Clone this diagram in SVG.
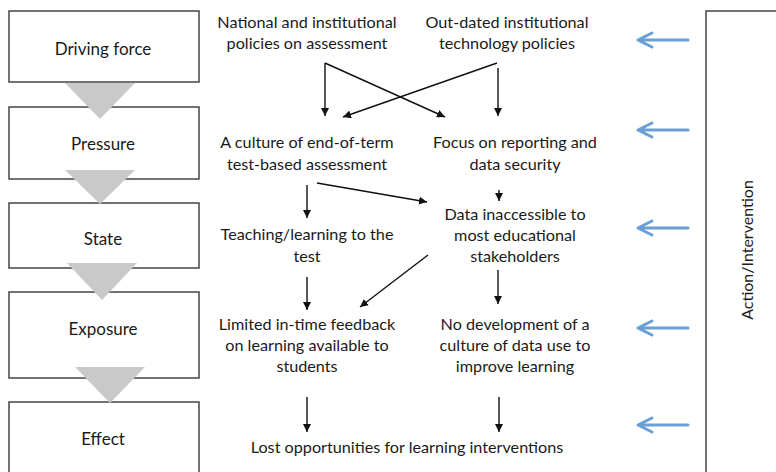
<svg xmlns="http://www.w3.org/2000/svg" width="776" height="472" viewBox="0 0 776 472">
<defs>
<marker id="ah" viewBox="0 0 10 10" refX="10" refY="5" markerWidth="8" markerHeight="8" markerUnits="userSpaceOnUse" orient="auto">
<path d="M0,0 L10,5 L0,10 Z" fill="#111"/>
</marker>
</defs>
<style>
.box{fill:#fff;stroke:#444;stroke-width:1.5}
.lbl{font-family:Lato,"Open Sans",sans-serif;font-size:17px;fill:#1a1a1a;text-anchor:middle}
.t{font-family:Lato,"Open Sans",sans-serif;font-size:16.2px;fill:#1a1a1a;text-anchor:middle}
.tri{fill:#c9c9c9}
.c{stroke:#111;stroke-width:1.4;fill:none;marker-end:url(#ah)}
.b{stroke:#6a9fd6;stroke-width:3;fill:none;stroke-linecap:round;stroke-linejoin:round}
</style>
<rect width="776" height="472" fill="#fff"/>
<g id="stages">
<g id="driving-force"><rect class="box" x="9" y="11" width="190" height="71"/><text class="lbl" x="103" y="55">Driving force</text></g>
<g id="pressure"><rect class="box" x="9" y="107" width="190" height="72"/><text class="lbl" x="103" y="150">Pressure</text></g>
<g id="state"><rect class="box" x="9" y="203" width="190" height="65"/><text class="lbl" x="103" y="245">State</text></g>
<g id="exposure"><rect class="box" x="9" y="292" width="190" height="86"/><text class="lbl" x="103" y="335">Exposure</text></g>
<g id="effect"><rect class="box" x="9" y="402" width="190" height="80"/><text class="lbl" x="103" y="445">Effect</text></g>
<polygon class="tri" points="65,83 135,83 100,119"/>
<polygon class="tri" points="65,170 135,170 100,204"/>
<polygon class="tri" points="67,263 137,263 102,300"/>
<polygon class="tri" points="75,367 145,367 110,403"/>
</g>
<g id="action"><rect class="box" x="706" y="11" width="100" height="500"/><text class="lbl" transform="translate(753,250) rotate(-90)" style="font-size:16px">Action/Intervention</text></g>
<g id="n1"><text class="t" x="307" y="28">National and institutional</text><text class="t" x="307" y="49">policies on assessment</text></g>
<g id="n2"><text class="t" x="507" y="28">Out-dated institutional</text><text class="t" x="507" y="49">technology policies</text></g>
<g id="n3"><text class="t" x="307" y="148">A culture of end-of-term</text><text class="t" x="307" y="170">test-based assessment</text></g>
<g id="n4"><text class="t" x="515" y="148">Focus on reporting and</text><text class="t" x="515" y="170">data security</text></g>
<g id="n5"><text class="t" x="307" y="240">Teaching/learning to the</text><text class="t" x="307" y="262">test</text></g>
<g id="n6"><text class="t" x="515" y="220">Data inaccessible to</text><text class="t" x="515" y="241">most educational</text><text class="t" x="515" y="262">stakeholders</text></g>
<g id="n7"><text class="t" x="307" y="330">Limited in-time feedback</text><text class="t" x="307" y="351">on learning available to</text><text class="t" x="307" y="372">students</text></g>
<g id="n8"><text class="t" x="515" y="330">No development of a</text><text class="t" x="515" y="351">culture of data use to</text><text class="t" x="515" y="372">improve learning</text></g>
<g id="n9"><text class="t" x="407" y="453">Lost opportunities for learning interventions</text></g>
<g id="connectors">
<line class="c" x1="325" y1="63" x2="325" y2="116"/>
<line class="c" x1="325" y1="63" x2="445" y2="117"/>
<line class="c" x1="497" y1="63" x2="343" y2="117"/>
<line class="c" x1="498" y1="68" x2="498" y2="116"/>
<line class="c" x1="307" y1="185" x2="307" y2="218"/>
<line class="c" x1="317" y1="183" x2="427" y2="202"/>
<line class="c" x1="499" y1="190" x2="499" y2="201"/>
<line class="c" x1="428" y1="255" x2="360" y2="307"/>
<line class="c" x1="307" y1="277" x2="307" y2="310"/>
<line class="c" x1="498" y1="270" x2="498" y2="304"/>
<line class="c" x1="307" y1="397" x2="307" y2="432"/>
<line class="c" x1="499" y1="397" x2="499" y2="432"/>
<path class="b" d="M688,40 H639 M652,33 L638,40 L652,47"/>
<path class="b" d="M688,130 H639 M652,123 L638,130 L652,137"/>
<path class="b" d="M688,228 H639 M652,221 L638,228 L652,235"/>
<path class="b" d="M688,328 H639 M652,321 L638,328 L652,335"/>
<path class="b" d="M688,425 H639 M652,418 L638,425 L652,432"/>
</g>
</svg>
